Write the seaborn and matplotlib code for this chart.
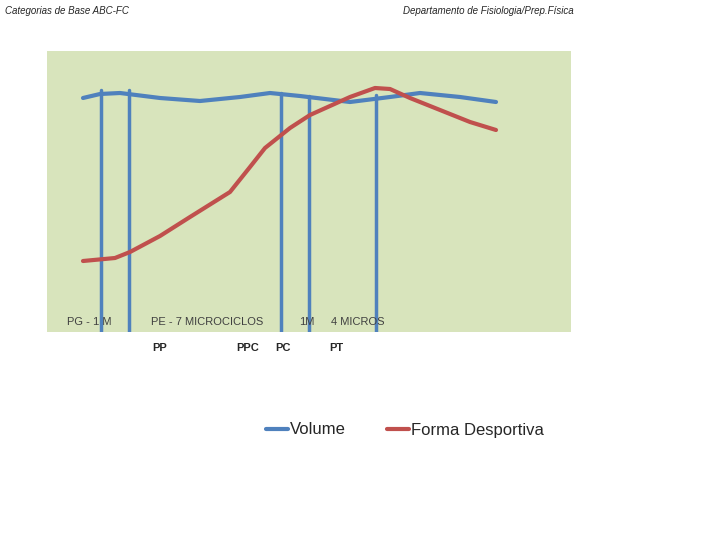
import seaborn as sns
import matplotlib.pyplot as plt
import pandas as pd

# x positions / levels (arbitrary units)
vol_x = [83, 100, 120, 160, 200, 240, 270, 300, 350, 390, 420, 460, 496]
vol_y = [234, 238, 239, 234, 231, 235, 239, 236, 230, 235, 239, 235, 230]
forma_x = [83, 115, 130, 160, 190, 230, 250, 265, 290, 310, 350, 375, 390, 410, 440, 470, 496]
forma_y = [71, 74, 80, 96, 115, 140, 165, 184, 204, 217, 235, 244, 243, 234, 222, 210, 202]
marcos_x = [101, 129, 281, 309, 376]
marcos_top = [242, 242, 239, 236, 237]
fases = ["PP", "PPC", "PC", "PT"]
fases_x = [160, 248, 283, 336]
rotulos = ["PG - 1 M", "PE - 7 MICROCICLOS", "1M", "4 MICROS"]
rotulos_x = [67, 151, 299, 331]

df = pd.concat([
    pd.DataFrame({"x": vol_x, "y": vol_y, "serie": "Volume"}),
    pd.DataFrame({"x": forma_x, "y": forma_y, "serie": "Forma Desportiva"}),
])

sns.set_theme(style="white")
plt.rcParams["font.family"] = ["Liberation Sans", "DejaVu Sans"]

fig = plt.figure(figsize=(7.2, 5.4), dpi=100)
ax = fig.add_axes([47 / 720, 208 / 540, 524 / 720, 281 / 540])
ax.set_facecolor("#d8e4bc")
for s in ax.spines.values():
    s.set_visible(False)

sns.lineplot(data=df, x="x", y="y", hue="serie", ax=ax, linewidth=3,
             palette={"Volume": "#4f81bd", "Forma Desportiva": "#c0504d"},
             sort=False, legend=False)
for mx, top in zip(marcos_x, marcos_top):
    ax.axvline(mx, ymin=0, ymax=top / 281, color="#4f81bd", linewidth=2.5, zorder=1)

for t, tx in zip(rotulos, rotulos_x):
    ax.text(tx, 10, t, fontsize=8, color="#404040", va="center")
for t, tx in zip(fases, fases_x):
    ax.text(tx, -16, t, fontsize=8, fontweight="bold", va="center", ha="center")

ax.set_xlim(47, 571)
ax.set_ylim(0, 281)
ax.set_xticks([])
ax.set_yticks([])
ax.set_xlabel("")
ax.set_ylabel("")

from matplotlib.lines import Line2D
handles = [Line2D([], [], color="#4f81bd", lw=3), Line2D([], [], color="#c0504d", lw=3)]
fig.legend(handles, ["Volume", "Forma Desportiva"], loc="center",
           bbox_to_anchor=(405 / 720, 1 - 430 / 540), ncol=2, frameon=False,
           fontsize=12, handlelength=1.3, handletextpad=0.1, columnspacing=2.5)

fig.text(5 / 720, 1 - 11 / 540, "Categorias de Base ABC-FC", fontsize=7, style="italic", va="center")
fig.text(403 / 720, 1 - 11 / 540, "Departamento de Fisiologia/Prep.Física", fontsize=7, style="italic", va="center")

fig.savefig("out.png", dpi=100)
